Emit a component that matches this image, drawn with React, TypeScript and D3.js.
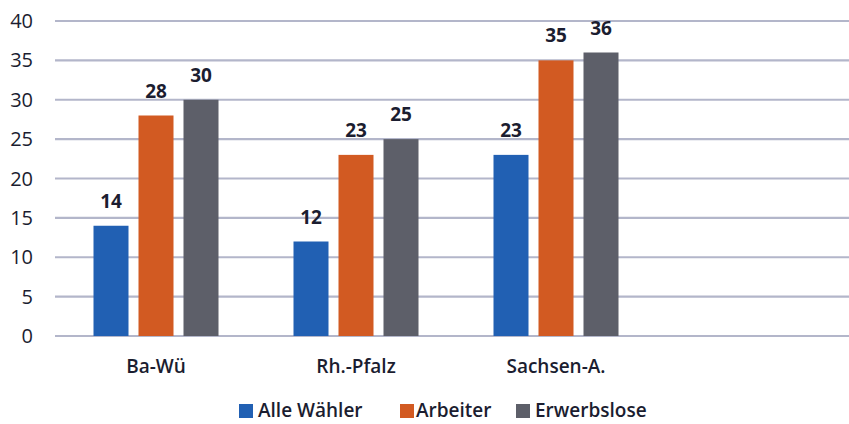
import React from "react";
import * as d3 from "d3";

const categories = ["Ba-Wü", "Rh.-Pfalz", "Sachsen-A."];
const seriesNames = ["Alle Wähler", "Arbeiter", "Erwerbslose"];
const alleWaehler = [14, 12, 23];
const arbeiter = [28, 23, 35];
const erwerbslose = [30, 25, 36];
const yTicks = [0, 5, 10, 15, 20, 25, 30, 35, 40];
const colors = ["#2160b3", "#d25a22", "#5d5f69"];

const W = 849;
const H = 424;

export default function App() {
  const seriesValues = [alleWaehler, arbeiter, erwerbslose];
  const y = d3.scaleLinear().domain([0, 40]).range([336, 21]);
  const x = d3.scaleBand<string>().domain(categories).range([56, 656]).padding(0);
  const bw = x.bandwidth();
  const inner = d3
    .scaleBand<string>()
    .domain(seriesNames)
    .range([bw / 2 - 62.5, bw / 2 + 62.5])
    .paddingInner(10 / 45)
    .paddingOuter(0);
  const textColor = "#1b1d30";
  const font = "'Open Sans', 'Noto Sans', sans-serif";

  const legendItems = [
    { name: seriesNames[0], sx: 239, tx: 258 },
    { name: seriesNames[1], sx: 400, tx: 416 },
    { name: seriesNames[2], sx: 516, tx: 535 },
  ];

  return (
    <svg
      width={W}
      height={H}
      style={{ position: "absolute", left: 0, top: 0, background: "#ffffff" }}
      fontFamily={font}
    >
      {yTicks.map((t) => (
        <g key={t}>
          <line x1={55} x2={W} y1={y(t)} y2={y(t)} stroke="#b3b6ca" strokeWidth={2.2} />
          <text
            x={33}
            y={y(t) + 7}
            textAnchor="end"
            fontSize={20}
            fontWeight={500}
            fill={textColor}
          >
            {t}
          </text>
        </g>
      ))}
      {categories.map((c, ci) => (
        <g key={c} transform={`translate(${x(c)},0)`}>
          {seriesNames.map((s, si) => {
            const v = seriesValues[si][ci];
            const bx = inner(s)!;
            return (
              <g key={s}>
                <rect
                  x={bx}
                  y={y(v)}
                  width={inner.bandwidth()}
                  height={y(0) - y(v)}
                  fill={colors[si]}
                />
                <text
                  x={bx + inner.bandwidth() / 2}
                  y={y(v) - 18}
                  textAnchor="middle"
                  fontSize={19}
                  fontWeight={700}
                  fill={textColor}
                >
                  {v}
                </text>
              </g>
            );
          })}
          <text
            x={bw / 2}
            y={373}
            textAnchor="middle"
            fontSize={19}
            fontWeight={600}
            fill={textColor}
          >
            {c}
          </text>
        </g>
      ))}
      {legendItems.map((l, i) => (
        <g key={l.name}>
          <rect x={l.sx} y={404} width={14} height={14} fill={colors[i]} />
          <text x={l.tx} y={417} fontSize={19} fontWeight={600} fill={textColor}>
            {l.name}
          </text>
        </g>
      ))}
    </svg>
  );
}
